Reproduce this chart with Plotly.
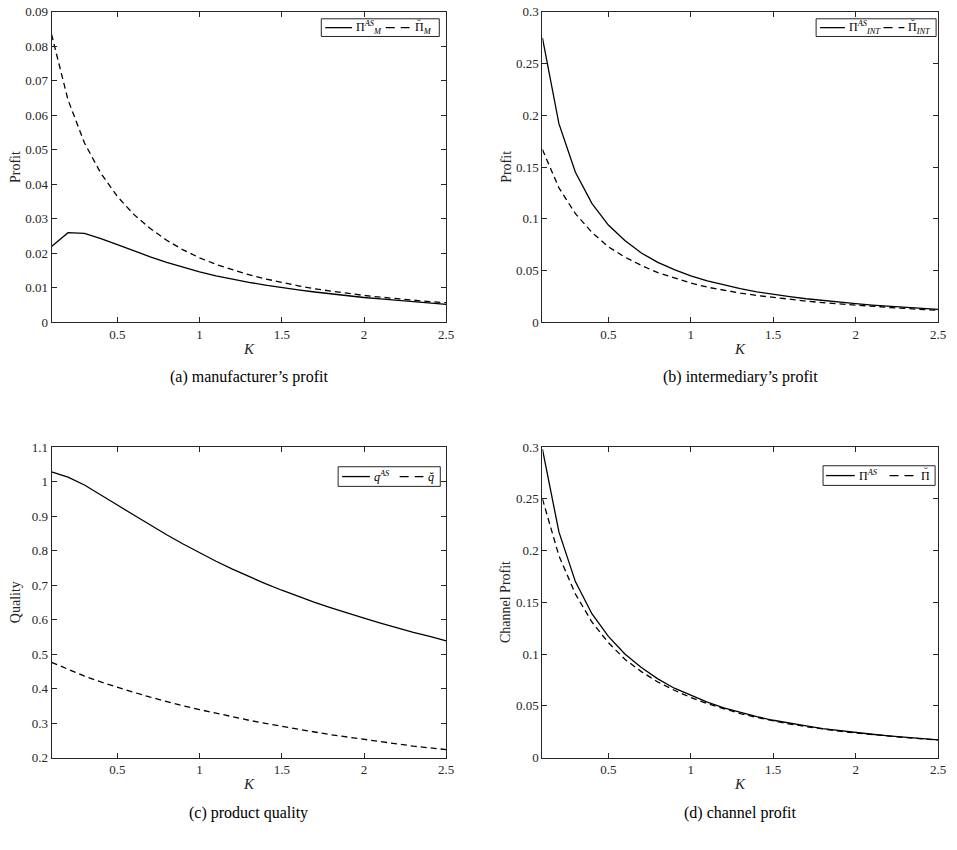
import plotly.graph_objects as go

W, H = 957, 850

K = [0.1, 0.2, 0.3, 0.4, 0.5, 0.6, 0.7, 0.8, 0.9, 1.0, 1.1, 1.2, 1.3,
     1.4, 1.5, 1.6, 1.7, 1.8, 1.9, 2.0, 2.1, 2.2, 2.3, 2.4, 2.5]

# (a) manufacturer's profit
man_as = [0.0220, 0.0260, 0.0258, 0.0243, 0.0225, 0.0207, 0.0190, 0.0174, 0.0159,
          0.0146, 0.0135, 0.0125, 0.0116, 0.0108, 0.0100, 0.0094, 0.0088, 0.0082,
          0.0077, 0.0072, 0.0068, 0.0064, 0.0060, 0.0056, 0.0052]
man_br = [0.0835, 0.0645, 0.0520, 0.0432, 0.0365, 0.0313, 0.0272, 0.0238, 0.0210,
          0.0187, 0.0168, 0.0152, 0.0138, 0.0126, 0.0115, 0.0106, 0.0097, 0.0090,
          0.0084, 0.0078, 0.0073, 0.0068, 0.0064, 0.0060, 0.0057]

# (b) intermediary's profit
int_as = [0.275, 0.192, 0.145, 0.115, 0.094, 0.079, 0.067, 0.058, 0.051, 0.045,
          0.040, 0.036, 0.0325, 0.0295, 0.027, 0.0248, 0.0228, 0.021, 0.0195,
          0.018, 0.0167, 0.0155, 0.0144, 0.0134, 0.0125]
int_br = [0.167, 0.130, 0.105, 0.087, 0.073, 0.063, 0.055, 0.048, 0.043, 0.038,
          0.034, 0.031, 0.0283, 0.026, 0.024, 0.0222, 0.0205, 0.019, 0.0177,
          0.0165, 0.0154, 0.0144, 0.0134, 0.0125, 0.0116]

# (c) product quality
q_as = [1.028, 1.013, 0.990, 0.962, 0.932, 0.903, 0.874, 0.846, 0.819, 0.793,
        0.769, 0.746, 0.724, 0.704, 0.685, 0.667, 0.650, 0.634, 0.618, 0.604,
        0.590, 0.576, 0.563, 0.551, 0.538]
q_br = [0.476, 0.455, 0.436, 0.419, 0.403, 0.389, 0.375, 0.362, 0.350, 0.339,
        0.328, 0.318, 0.308, 0.299, 0.290, 0.282, 0.274, 0.266, 0.259, 0.252,
        0.245, 0.239, 0.233, 0.228, 0.223]

# (d) channel profit
ch_as = [0.298, 0.218, 0.170, 0.139, 0.117, 0.100, 0.087, 0.076, 0.067, 0.060,
         0.0535, 0.048, 0.0435, 0.0395, 0.036, 0.033, 0.0305, 0.028, 0.026,
         0.024, 0.0225, 0.021, 0.0195, 0.018, 0.017]
ch_br = [0.250, 0.195, 0.158, 0.131, 0.111, 0.095, 0.083, 0.073, 0.065, 0.058,
         0.052, 0.047, 0.0425, 0.0387, 0.0353, 0.0324, 0.0298, 0.0275, 0.0255,
         0.0237, 0.0221, 0.0206, 0.0193, 0.0181, 0.017]

x_ticks = [0.5, 1, 1.5, 2, 2.5]
x_ticktext = ["0.5", "1", "1.5", "2", "2.5"]
ya_ticks = [0, 0.01, 0.02, 0.03, 0.04, 0.05, 0.06, 0.07, 0.08, 0.09]
ya_text = ["0", "0.01", "0.02", "0.03", "0.04", "0.05", "0.06", "0.07", "0.08", "0.09"]
yb_ticks = [0, 0.05, 0.1, 0.15, 0.2, 0.25, 0.3]
yb_text = ["0", "0.05", "0.1", "0.15", "0.2", "0.25", "0.3"]
yc_ticks = [0.2, 0.3, 0.4, 0.5, 0.6, 0.7, 0.8, 0.9, 1.0, 1.1]
yc_text = ["0.2", "0.3", "0.4", "0.5", "0.6", "0.7", "0.8", "0.9", "1", "1.1"]

captions = ["(a) manufacturer’s profit", "(b) intermediary’s profit",
            "(c) product quality", "(d) channel profit"]
ytitles = ["Profit", "Profit", "Quality", "Channel Profit"]
legend_names = [
    ("Π<sup><i>AS</i></sup><sub><i>M</i></sub>", "Π<sub><i>M</i></sub>"),
    ("Π<sup><i>AS</i></sup><sub><i>INT</i></sub>", "Π<sub><i>INT</i></sub>"),
    ("<i>q</i><sup><i>AS</i></sup>", "<i>q̆</i>"),
    ("Π<sup><i>AS</i></sup>", "Π"),
]
# whether the second label carries a breve accent drawn over its capital Pi
breve_over_pi = [True, True, False, True]

FONT = "Liberation Serif, Times New Roman, serif"
TXT = "#262626"

# pixel boxes (left, right, top, bottom)
boxes = [(52, 450, 5, 321), (547, 946, 5, 321), (52, 450, 448, 764), (547, 946, 448, 764)]
series = [(man_as, man_br), (int_as, int_br), (q_as, q_br), (ch_as, ch_br)]
yranges = [(0, 0.09), (0, 0.3), (0.2, 1.1), (0, 0.3)]
yticks = [(ya_ticks, ya_text), (yb_ticks, yb_text), (yc_ticks, yc_text), (yb_ticks, yb_text)]
# legend box (left, right, top, bottom), solid key x-span, text1 x, dashed key span, text2 x
legend_geo = [
    ((324, 443, 12, 30), (328, 355), 357, (389, 413), 416),
    ((823, 944, 12, 30), (827, 852), 854, (891, 912), 914),
    ((341, 444, 468, 488), (345, 373), 375, (403, 427), 430),
    ((830, 943, 467, 487), (833, 862), 864, (897, 922), 927),
]

def px(x):
    return x / W

def py(y):
    return 1 - y / H

fig = go.Figure()
layout = dict(
    width=W, height=H, margin=dict(l=0, r=0, t=0, b=0),
    paper_bgcolor="white", plot_bgcolor="white",
    font=dict(family=FONT, size=13, color=TXT),
    showlegend=False,
)
annotations = []
shapes = []
for i in range(4):
    l, r, t, b = boxes[i]
    xa = "xaxis" if i == 0 else f"xaxis{i+1}"
    ya = "yaxis" if i == 0 else f"yaxis{i+1}"
    xr = "x" if i == 0 else f"x{i+1}"
    yr = "y" if i == 0 else f"y{i+1}"
    s_as, s_br = series[i]
    fig.add_trace(go.Scatter(x=K, y=s_as, mode="lines", name=legend_names[i][0],
                             line=dict(color="black", width=1.3), xaxis=xr, yaxis=yr))
    fig.add_trace(go.Scatter(x=K, y=s_br, mode="lines", name=legend_names[i][1],
                             line=dict(color="black", width=1.3, dash="6px,4px"),
                             xaxis=xr, yaxis=yr))
    axcommon = dict(showgrid=False, zeroline=False, showline=True, linecolor=TXT,
                    linewidth=1, mirror="ticks", ticks="inside", ticklen=5,
                    tickcolor=TXT, tickwidth=1,
                    tickfont=dict(family=FONT, size=13, color=TXT))
    layout[xa] = dict(domain=[l / W, r / W], range=[0.1, 2.5], tickvals=x_ticks,
                      ticktext=x_ticktext, anchor=yr, **axcommon)
    layout[ya] = dict(domain=[1 - b / H, 1 - t / H], range=list(yranges[i]),
                      tickvals=yticks[i][0], ticktext=yticks[i][1], anchor=xr,
                      **axcommon)

    # legend (drawn as a box with keys and labels)
    (bl, br, bt, bb), (s0, s1), t1, (d0, d1), t2 = legend_geo[i]
    cy = (bt + bb) / 2
    shapes.append(dict(type="rect", xref="paper", yref="paper", x0=px(bl), x1=px(br),
                       y0=py(bb), y1=py(bt), line=dict(color=TXT, width=1),
                       fillcolor="white", layer="above"))
    shapes.append(dict(type="line", xref="paper", yref="paper", x0=px(s0), x1=px(s1),
                       y0=py(cy), y1=py(cy), line=dict(color="black", width=1.3),
                       layer="above"))
    shapes.append(dict(type="line", xref="paper", yref="paper", x0=px(d0), x1=px(d1),
                       y0=py(cy), y1=py(cy),
                       line=dict(color="black", width=1.3, dash="9px,6px"),
                       layer="above"))
    annotations.append(dict(text=legend_names[i][0], x=px(t1), y=py(cy), xref="paper",
                            yref="paper", showarrow=False, xanchor="left",
                            yanchor="middle",
                            font=dict(family=FONT, size=12, color="black")))
    annotations.append(dict(text=legend_names[i][1], x=px(t2), y=py(cy), xref="paper",
                            yref="paper", showarrow=False, xanchor="left",
                            yanchor="middle",
                            font=dict(family=FONT, size=12, color="black")))
    if breve_over_pi[i]:
        annotations.append(dict(text="˘", x=px(t2 + 6.5), y=py(cy - 5), xref="paper",
                                yref="paper", showarrow=False, xanchor="center",
                                yanchor="middle",
                                font=dict(family=FONT, size=11, color="black")))

    cx = (l + r) / 2
    annotations.append(dict(text="<i>K</i>", x=cx / W, y=1 - (b + 27) / H,
                            xref="paper", yref="paper", showarrow=False,
                            xanchor="center", yanchor="middle",
                            font=dict(family=FONT, size=15, color=TXT)))
    annotations.append(dict(text=ytitles[i], x=(l - 37) / W, y=1 - ((t + b) / 2) / H,
                            xref="paper", yref="paper", showarrow=False, textangle=-90,
                            xanchor="center", yanchor="middle",
                            font=dict(family=FONT, size=14, color=TXT)))
    cap_y = 377 if i < 2 else 820
    annotations.append(dict(text=captions[i], x=cx / W, y=1 - cap_y / H,
                            xref="paper", yref="paper", showarrow=False,
                            xanchor="center", yanchor="middle",
                            font=dict(family=FONT, size=16, color="black")))
layout["annotations"] = annotations
layout["shapes"] = shapes
fig.update_layout(**layout)
fig.write_html("out.html")
